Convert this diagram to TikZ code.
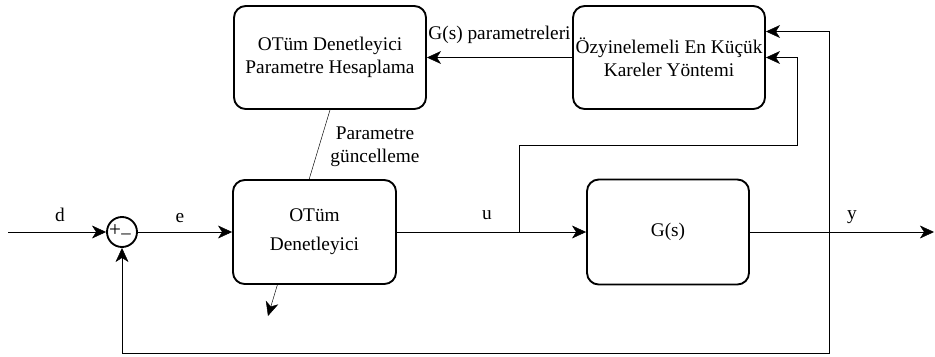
\documentclass[tikz,border=0pt]{standalone}
\usepackage{fontspec}
\setmainfont{Liberation Serif}
\usetikzlibrary{arrows.meta,backgrounds}
\begin{document}
\begin{tikzpicture}[x=0.03cm,y=-0.03cm,
  font=\fontsize{16.5}{20}\selectfont,
  line width=1.6pt,
  arr/.style={-{Stealth[length=12pt,width=11pt,inset=3.5pt]}},
  blk/.style={draw,rounded corners=10pt,fill=white,align=center,inner sep=0pt},
  lbl/.style={inner sep=1pt}]
\useasboundingbox (0,0) rectangle (935,356);
% blocks
\node[draw,circle,fill=white,minimum size=0.9cm,inner sep=0pt] (sum) at (122,232) {};
\node[font=\fontsize{18}{18}\selectfont,inner sep=0pt] (plus) at (115,231) {+};
\node[font=\fontsize{16}{16}\selectfont,inner sep=0pt] (minus) at (126,234) {\_};
\node[blk,minimum width=163*0.03cm,minimum height=104*0.03cm] (ctrl) at (314.5,232) {OTüm\\[5pt]Denetleyici};
\node[blk,minimum width=162*0.03cm,minimum height=105*0.03cm] (plant) at (668,232) {G(s)};
\node[blk,minimum width=192*0.03cm,minimum height=103*0.03cm] (hp) at (330,57.5) {OTüm Denetleyici\\Parametre Hesaplama};
\node[blk,minimum width=192*0.03cm,minimum height=103*0.03cm] (rls) at (669,57.5) {Özyinelemeli En Küçük\\Kareler Yöntemi};
% coordinates
\coordinate (in) at (8,232);
\coordinate (out) at (934,232);
\coordinate (ub) at (519,232);
\coordinate (uc) at (797,145);
\coordinate (yb) at (829,232);
\coordinate (fb) at (829,353);
\coordinate (adapt) at (268,316);
% adaptation arrow behind controller
\begin{pgfonlayer}{background}
\draw[arr] (hp.south) -- (adapt);
\end{pgfonlayer}
% signals
\draw[arr] (in) -- (sum.west);
\draw[arr] (sum.east) -- (ctrl.west);
\draw[arr] (ctrl.east) -- (plant.west);
\draw[arr] (plant.east) -- (out);
\draw[arr] (ub) |- (uc) |- (rls.east);
\draw[arr] (yb) |- ([yshift=0.78cm]rls.east);
\draw[arr] (yb) -- (fb) -| (sum.south);
\draw[arr] (rls.west) -- (hp.east);
% labels
\node[lbl] (ld) at (60,215) {d};
\node[lbl] (le) at (180,218) {e};
\node[lbl] (lu) at (487,215) {u};
\node[lbl] (ly) at (852,217) {y};
\node[lbl,anchor=south east] (lg) at (572,45) {G(s) parametreleri};
\node[lbl,align=center] (lp) at (375,147) {Parametre\\güncelleme};
\end{tikzpicture}
\end{document}
